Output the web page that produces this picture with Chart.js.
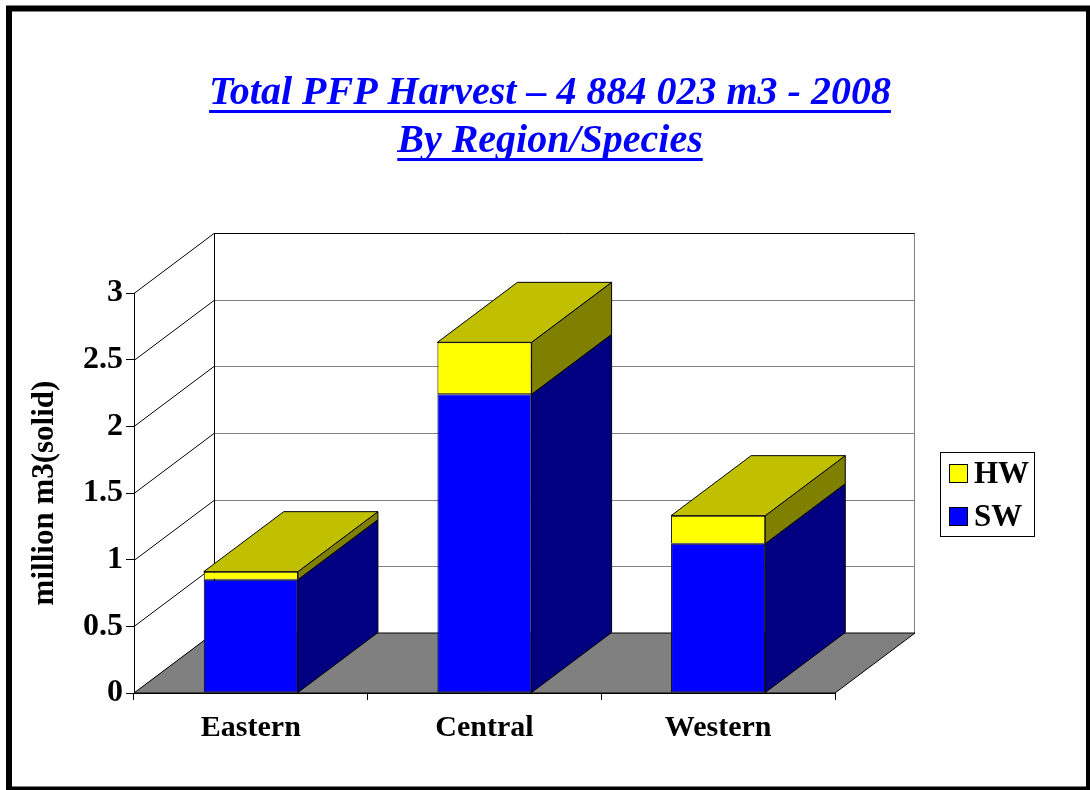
<!DOCTYPE html>
<html>
<head>
<meta charset="utf-8">
<script src="https://cdn.jsdelivr.net/npm/chart.js@4.4.1/dist/chart.umd.min.js"></script>
<style>
  html, body { margin: 0; padding: 0; background: #fff; }
  canvas { display: block; }
</style>
</head>
<body>
<canvas id="harvestChart" width="1090" height="790"></canvas>
<script>
// Data (million m3)
const regions = ['Eastern', 'Central', 'Western'];
const swValues = [0.85, 2.24, 1.12];
const hwValues = [0.06, 0.39, 0.21];
const yMin = 0, yMax = 3, yStep = 0.5;
const titleLines = ['Total PFP Harvest \u2013 4 884 023 m3 - 2008', 'By Region/Species'];
const yTitle = 'million m3(solid)';

const SERIF = "'Liberation Serif', 'Times New Roman', serif";
const DEPTH_X = 80, DEPTH_Y = -60;

// Fake-3D walls, floor, bar sides/tops, title and legend
const box3d = {
    id: 'box3d',
    beforeDraw(chart) {
        const ctx = chart.ctx;
        ctx.save();
        ctx.fillStyle = '#fff';
        ctx.fillRect(0, 0, chart.width, chart.height);
        ctx.strokeStyle = '#000';
        ctx.lineWidth = 6;
        ctx.strokeRect(9, 8.5, 1080, 781);
        ctx.restore();
    },
    beforeDatasetsDraw(chart) {
        const ctx = chart.ctx;
        const a = chart.chartArea;
        const ys = chart.scales.y;
        const L = a.left, R = a.right, B = ys.getPixelForValue(yMin);
        ctx.save();
        ctx.lineWidth = 1;
        // side wall diagonals + back wall grid
        for (let v = yMin; v <= yMax + 1e-9; v += yStep) {
            const py = Math.round(ys.getPixelForValue(v)) + 0.5;
            ctx.strokeStyle = '#000';
            ctx.beginPath();
            ctx.moveTo(L, py);
            ctx.lineTo(L + DEPTH_X, py + DEPTH_Y);
            ctx.stroke();
            ctx.strokeStyle = v >= yMax ? '#000' : '#808080';
            ctx.beginPath();
            ctx.moveTo(L + DEPTH_X, py + DEPTH_Y);
            ctx.lineTo(R + DEPTH_X, py + DEPTH_Y);
            ctx.stroke();
        }
        const topY = Math.round(ys.getPixelForValue(yMax)) + 0.5 + DEPTH_Y;
        ctx.strokeStyle = '#000';
        ctx.beginPath();
        ctx.moveTo(L + DEPTH_X + 0.5, topY);
        ctx.lineTo(L + DEPTH_X + 0.5, B + DEPTH_Y);
        ctx.stroke();
        ctx.strokeStyle = '#808080';
        ctx.beginPath();
        ctx.moveTo(R + DEPTH_X - 0.5, topY);
        ctx.lineTo(R + DEPTH_X - 0.5, B + DEPTH_Y);
        ctx.stroke();
        // floor
        ctx.fillStyle = '#808080';
        ctx.strokeStyle = '#000';
        ctx.beginPath();
        ctx.moveTo(L, B);
        ctx.lineTo(L + DEPTH_X, B + DEPTH_Y);
        ctx.lineTo(R + DEPTH_X, B + DEPTH_Y);
        ctx.lineTo(R, B);
        ctx.closePath();
        ctx.fill();
        ctx.stroke();
        ctx.restore();
    },
    afterDatasetsDraw(chart) {
        const ctx = chart.ctx;
        const sets = chart.data.datasets;
        ctx.save();
        ctx.lineWidth = 1;
        ctx.strokeStyle = '#000';
        sets.forEach((ds, di) => {
            const meta = chart.getDatasetMeta(di);
            meta.data.forEach((bar) => {
                const p = bar.getProps(['x', 'y', 'base', 'width'], true);
                const left = p.x - p.width / 2, right = p.x + p.width / 2;
                const top = Math.min(p.y, p.base), bottom = Math.max(p.y, p.base);
                // side
                ctx.fillStyle = ds.sideColor;
                ctx.beginPath();
                ctx.moveTo(right, top);
                ctx.lineTo(right + DEPTH_X, top + DEPTH_Y);
                ctx.lineTo(right + DEPTH_X, bottom + DEPTH_Y);
                ctx.lineTo(right, bottom);
                ctx.closePath();
                ctx.fill();
                ctx.stroke();
                // top of the stack
                if (di === sets.length - 1) {
                    ctx.fillStyle = ds.topColor;
                    ctx.beginPath();
                    ctx.moveTo(left, top);
                    ctx.lineTo(left + DEPTH_X, top + DEPTH_Y);
                    ctx.lineTo(right + DEPTH_X, top + DEPTH_Y);
                    ctx.lineTo(right, top);
                    ctx.closePath();
                    ctx.fill();
                    ctx.stroke();
                }
            });
        });
        ctx.restore();
    },
    afterDraw(chart) {
        const ctx = chart.ctx;
        ctx.save();
        // title
        ctx.fillStyle = '#0000FF';
        ctx.font = 'italic bold 40px ' + SERIF;
        ctx.textAlign = 'center';
        ctx.textBaseline = 'alphabetic';
        const baselines = [104, 152];
        titleLines.forEach((t, i) => {
            const w = ctx.measureText(t).width;
            ctx.fillText(t, 550, baselines[i]);
            ctx.fillRect(550 - w / 2, baselines[i] + 6, w, 3);
        });
        // y axis title
        ctx.fillStyle = '#000';
        ctx.font = 'bold 31px ' + SERIF;
        ctx.translate(45, chart.chartArea.top + (chart.chartArea.bottom - chart.chartArea.top) / 2);
        ctx.rotate(-Math.PI / 2);
        ctx.textBaseline = 'middle';
        ctx.fillText(yTitle, 0, 0);
        ctx.restore();

        // legend
        ctx.save();
        ctx.strokeStyle = '#000';
        ctx.lineWidth = 1;
        ctx.strokeRect(940.5, 452.5, 94, 84);
        ctx.font = 'bold 31px ' + SERIF;
        ctx.textBaseline = 'middle';
        ctx.textAlign = 'left';
        const items = chart.data.datasets.slice().reverse();
        items.forEach((ds, i) => {
            const cy = 474 + i * 43;
            ctx.fillStyle = ds.backgroundColor;
            ctx.fillRect(949.5, cy - 9.5, 18, 18);
            ctx.strokeRect(949.5, cy - 9.5, 18, 18);
            ctx.fillStyle = '#000';
            ctx.fillText(ds.label, 974, cy + 1);
        });
        ctx.restore();
    }
};

new Chart(document.getElementById('harvestChart'), {
    type: 'bar',
    data: {
        labels: regions,
        datasets: [
            {
                label: 'SW',
                data: swValues,
                backgroundColor: '#0000FF',
                sideColor: '#000080',
                topColor: '#0000C0',
                borderColor: '#000',
                borderWidth: 1,
                borderSkipped: false
            },
            {
                label: 'HW',
                data: hwValues,
                backgroundColor: '#FFFF00',
                sideColor: '#808000',
                topColor: '#C0C000',
                borderColor: '#000',
                borderWidth: 1,
                borderSkipped: false
            }
        ]
    },
    options: {
        responsive: false,
        animation: false,
        layout: { padding: { top: 293, right: 255, left: 0, bottom: 0 } },
        datasets: { bar: { categoryPercentage: 1, barPercentage: 0.403 } },
        scales: {
            x: {
                stacked: true,
                afterFit: (s) => { s.height = 97; },
                grid: { offset: true, drawOnChartArea: false, tickLength: 7, color: '#000' },
                border: { color: '#000', width: 1 },
                ticks: { color: '#000', padding: 10, font: { family: SERIF, size: 30, weight: 'bold' } }
            },
            y: {
                stacked: true,
                min: yMin,
                max: yMax,
                afterFit: (s) => { s.width = 134; },
                grid: { drawOnChartArea: false, tickLength: 8, color: '#000' },
                border: { color: '#000', width: 1 },
                ticks: {
                    stepSize: yStep,
                    color: '#000',
                    padding: 3,
                    font: { family: SERIF, size: 32, weight: 'bold' },
                    callback: (v) => String(v)
                }
            }
        },
        plugins: {
            legend: { display: false },
            title: { display: false },
            tooltip: { enabled: false }
        }
    },
    plugins: [box3d]
});
</script>
</body>
</html>
